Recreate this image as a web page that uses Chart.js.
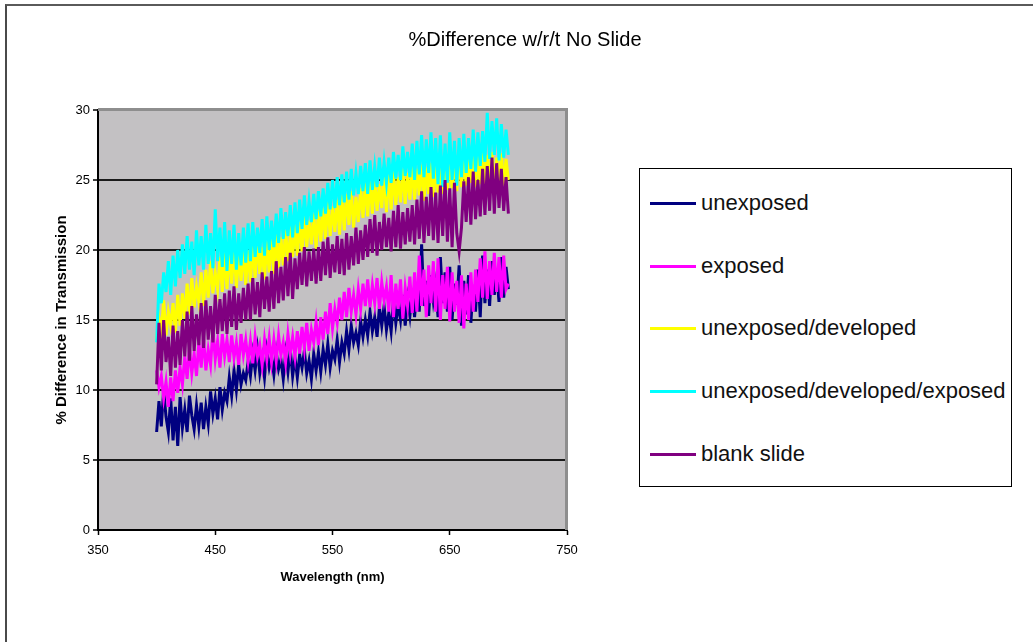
<!DOCTYPE html>
<html>
<head>
<meta charset="utf-8">
<script src="https://cdn.jsdelivr.net/npm/chart.js@4/dist/chart.umd.min.js"></script>
<style>
  html, body { margin: 0; padding: 0; background: #fff; overflow: hidden; }
  body { width: 1033px; height: 642px; position: relative; font-family: "Liberation Sans", Arial, sans-serif; }
  #frame { position: absolute; left: 5px; top: 4px; width: 1100px; height: 700px; border-left: 2px solid #4a4a4a; border-top: 2px solid #5a5a5a; }
  #chart { position: absolute; left: 0; top: 0; }
  #legend { position: absolute; left: 639px; top: 168px; width: 371px; height: 317px; border: 1px solid #000; background: #fff; }
  .item { position: absolute; left: 10px; height: 26px; display: flex; align-items: center; font-size: 22px; color: #111; white-space: nowrap; }
  .swatch { width: 46px; height: 3px; margin-right: 5px; }
</style>
</head>
<body>
<div id="frame"></div>
<canvas id="chart" width="1033" height="642"></canvas>
<div id="legend"></div>
<script>
// transmission difference (%), one sample every 2 nm from 400 to 700 nm
const unexposed = [
  7.0, 9.2, 7.4, 10.0, 8.1, 7.0, 9.4, 6.4, 8.8, 6.0,
  9.5, 7.3, 8.6, 7.0, 9.6, 8.2, 7.2, 8.9, 7.4, 9.1,
  7.2, 8.8, 7.6, 9.9, 8.3, 9.4, 7.9, 10.2, 8.6, 9.8,
  9.2, 10.9, 9.6, 11.4, 10.0, 11.8, 10.4, 11.2, 10.7, 12.0,
  11.0, 12.6, 11.4, 12.9, 11.2, 12.3, 10.9, 12.8, 11.6, 12.4,
  11.1, 12.7, 11.5, 12.2, 10.8, 12.6, 11.3, 12.9, 11.0, 12.3,
  10.9, 12.5, 11.6, 12.8, 11.2, 12.1, 10.8, 12.6, 11.4, 12.7,
  11.3, 12.9, 11.8, 13.3, 11.6, 12.8, 12.2, 13.6, 12.0, 13.4,
  12.6, 14.2, 12.9, 14.6, 13.4, 14.1, 13.2, 14.9, 13.8, 15.0,
  13.9, 15.6, 14.2, 15.2, 13.8, 15.9, 14.6, 16.0, 14.3, 15.5,
  14.2, 16.4, 14.8, 16.1, 15.0, 16.8, 14.6, 16.5, 15.3, 17.1,
  15.2, 17.4, 15.6, 20.4, 16.0, 17.8, 15.3, 18.2, 16.4, 17.6,
  15.2, 19.5, 16.2, 18.4, 15.6, 18.8, 15.0, 17.6, 16.1, 18.9,
  14.6, 17.8, 15.4, 18.2, 14.8, 17.5, 15.6, 18.6, 15.2, 19.6,
  16.2, 18.6, 16.0, 19.2, 16.8, 18.4, 16.3, 19.5, 16.6, 18.8,
  17.2
];
const exposed = [
  11.4, 10.2, 11.0, 9.4, 10.6, 8.8, 10.9, 9.2, 11.4, 9.8,
  11.6, 10.4, 12.4, 10.8, 13.0, 11.2, 12.6, 11.0, 13.4, 11.6,
  13.8, 11.4, 12.9, 11.8, 14.3, 12.2, 13.5, 11.6, 14.0, 12.4,
  13.6, 12.0, 13.9, 12.3, 13.4, 11.8, 14.0, 12.5, 13.6, 12.1,
  13.5, 11.9, 13.8, 12.4, 13.2, 11.8, 13.6, 12.2, 13.7, 12.0,
  13.6, 12.1, 13.9, 12.5, 13.4, 12.0, 14.0, 12.6, 13.8, 12.4,
  14.2, 12.6, 14.5, 13.0, 14.8, 12.8, 14.3, 13.4, 14.9, 13.2,
  15.2, 13.6, 15.6, 14.0, 16.2, 14.4, 15.8, 14.8, 16.6, 15.0,
  17.0, 15.2, 17.3, 15.6, 16.8, 15.4, 17.2, 15.8, 17.6, 16.0,
  17.9, 15.9, 17.5, 16.2, 18.0, 15.8, 17.7, 16.4, 17.4, 15.6,
  18.2, 15.2, 17.6, 15.8, 17.9, 15.1, 17.3, 16.0, 18.1, 15.5,
  18.4, 15.6, 19.6, 16.0, 18.6, 15.2, 18.9, 16.2, 19.2, 15.6,
  19.4, 15.0, 18.2, 15.8, 18.8, 14.9, 18.4, 15.6, 17.8, 14.8,
  18.2, 14.4, 17.6, 15.0, 18.4, 15.6, 18.6, 16.3, 19.4, 16.6,
  19.9, 16.5, 19.2, 16.8, 19.8, 17.0, 19.5, 16.6, 19.6, 17.2,
  17.6
];
const unexposedDeveloped = [
  13.6, 15.2, 14.2, 16.4, 13.9, 15.6, 14.6, 16.2, 14.1, 16.8,
  14.6, 16.9, 15.1, 17.6, 15.4, 18.0, 15.9, 17.4, 16.3, 18.4,
  16.0, 18.6, 16.6, 19.2, 16.9, 18.4, 17.2, 19.5, 17.0, 19.8,
  17.2, 19.9, 17.6, 20.2, 17.3, 19.6, 17.8, 20.1, 17.5, 20.0,
  17.7, 20.4, 18.0, 20.8, 18.3, 20.2, 17.9, 20.6, 18.4, 20.9,
  18.3, 21.2, 18.7, 20.9, 18.9, 21.4, 19.2, 21.0, 19.5, 21.8,
  19.6, 22.0, 19.9, 22.4, 20.2, 22.1, 20.4, 22.6, 20.1, 22.8,
  20.6, 23.0, 20.8, 23.4, 21.0, 23.1, 21.3, 23.6, 21.1, 23.9,
  21.4, 24.0, 21.8, 24.2, 21.6, 23.8, 22.0, 24.4, 22.3, 24.8,
  22.4, 24.9, 22.6, 25.0, 22.8, 24.7, 23.0, 25.3, 22.7, 25.5,
  22.9, 25.6, 23.2, 25.2, 23.4, 25.8, 23.3, 25.5, 23.6, 26.0,
  23.6, 25.8, 23.9, 26.1, 23.5, 25.9, 24.0, 26.2, 23.8, 26.0,
  24.1, 26.3, 24.0, 26.5, 24.3, 26.2, 24.4, 26.6, 24.2, 26.4,
  24.5, 26.7, 24.6, 26.5, 24.8, 26.9, 24.5, 26.8, 24.7, 27.0,
  24.6, 26.8, 24.9, 27.0, 24.5, 26.6, 24.8, 26.9, 24.6, 26.5,
  25.0
];
const unexposedDevelopedExposed = [
  13.4, 17.6, 16.2, 18.4, 17.0, 19.2, 16.8, 19.6, 17.4, 20.0,
  18.0, 20.4, 18.3, 21.0, 18.6, 20.6, 18.2, 21.4, 18.9, 21.0,
  18.6, 21.8, 19.0, 21.2, 18.7, 22.9, 19.2, 21.6, 18.8, 22.0,
  18.5, 21.4, 19.0, 21.8, 18.6, 21.2, 18.9, 21.6, 19.1, 21.9,
  19.2, 22.0, 19.5, 21.6, 19.8, 22.2, 19.6, 22.4, 20.0, 22.1,
  20.2, 22.6, 20.5, 23.0, 20.8, 22.7, 21.0, 23.2, 20.9, 23.4,
  21.2, 23.6, 21.5, 23.9, 21.8, 23.5, 22.0, 24.0, 22.2, 24.2,
  22.4, 24.4, 22.6, 24.8, 22.9, 25.0, 23.0, 25.2, 23.2, 25.4,
  23.4, 25.6, 23.6, 25.8, 23.9, 25.5, 24.0, 26.0, 24.2, 26.2,
  24.0, 26.4, 24.3, 26.0, 24.5, 26.6, 24.6, 26.3, 24.8, 26.6,
  24.8, 27.0, 25.1, 26.8, 25.0, 27.4, 25.3, 27.0, 25.2, 27.6,
  25.0, 27.8, 25.4, 28.2, 25.2, 27.9, 25.5, 28.4, 25.1, 28.0,
  24.7, 28.2, 24.5, 27.6, 24.8, 28.4, 25.0, 27.8, 24.6, 28.0,
  25.2, 28.3, 25.5, 28.0, 25.8, 28.6, 25.6, 28.4, 26.0, 28.5,
  26.3, 29.8, 26.5, 29.2, 26.8, 29.4, 26.4, 29.0, 26.6, 28.6,
  26.8
];
const blankSlide = [
  10.4, 14.8, 11.4, 15.0, 12.0, 13.8, 11.0, 14.6, 11.6, 14.2,
  11.8, 15.0, 12.4, 15.6, 12.1, 16.0, 12.8, 15.4, 13.2, 16.2,
  13.0, 16.4, 13.6, 16.0, 13.4, 16.8, 14.0, 16.5, 14.2, 16.9,
  14.0, 17.1, 14.5, 17.4, 14.3, 16.9, 14.8, 17.3, 15.0, 17.6,
  15.0, 18.0, 15.4, 17.7, 15.2, 18.4, 15.8, 18.1, 15.6, 18.5,
  15.8, 19.2, 16.2, 18.8, 16.4, 19.5, 16.7, 19.8, 16.5, 19.4,
  17.2, 19.8, 17.5, 20.2, 17.4, 19.9, 17.8, 20.1, 17.6, 20.2,
  17.8, 20.6, 18.2, 20.9, 18.0, 20.4, 18.4, 21.0, 18.3, 20.8,
  18.2, 21.2, 18.6, 21.0, 18.9, 21.6, 19.0, 21.4, 19.3, 21.8,
  19.5, 22.2, 19.8, 22.5, 19.6, 22.0, 20.0, 22.6, 20.2, 22.3,
  19.9, 22.8, 20.2, 23.2, 20.1, 22.7, 20.4, 23.0, 20.6, 23.2,
  20.4, 23.6, 20.8, 24.2, 20.5, 23.8, 21.0, 24.5, 20.7, 24.1,
  20.5, 24.6, 21.0, 25.0, 20.6, 24.4, 20.2, 24.8, 21.2, 19.9,
  21.6, 24.9, 22.0, 25.2, 21.8, 25.6, 22.2, 25.0, 22.4, 25.8,
  22.5, 26.0, 22.8, 26.6, 22.6, 26.2, 23.0, 25.8, 22.8, 25.2,
  22.6
];
const wavelengths = Array.from({ length: unexposed.length }, (_, i) => 400 + 2 * i);

const seriesNames = ['unexposed', 'exposed', 'unexposed/developed', 'unexposed/developed/exposed', 'blank slide'];
const seriesValues = [unexposed, exposed, unexposedDeveloped, unexposedDevelopedExposed, blankSlide];
const seriesColors = ['#000080', '#ff00ff', '#ffff00', '#00ffff', '#800080'];

// grey plot area with the shaded top/right edge
const plotArea = {
  id: 'plotArea',
  beforeDraw(chart) {
    const { ctx, chartArea: a } = chart;
    ctx.save();
    ctx.fillStyle = '#c3c1c3';
    ctx.fillRect(a.left, a.top, a.right - a.left, a.bottom - a.top);
    ctx.restore();
  },
  afterDatasetsDraw(chart) {
    const { ctx, chartArea: a } = chart;
    ctx.save();
    ctx.strokeStyle = '#8e8e8e';
    ctx.lineWidth = 3;
    ctx.beginPath();
    ctx.moveTo(a.left, a.top - 0.5);
    ctx.lineTo(a.right - 0.5, a.top - 0.5);
    ctx.lineTo(a.right - 0.5, a.bottom);
    ctx.stroke();
    ctx.restore();
  }
};

new Chart(document.getElementById('chart'), {
  type: 'line',
  data: {
    datasets: seriesNames.map((name, i) => ({
      label: name,
      data: wavelengths.map((w, j) => ({ x: w, y: seriesValues[i][j] })),
      borderColor: seriesColors[i],
      borderWidth: 3,
      pointRadius: 0,
      tension: 0,
      fill: false,
      // later series are painted over earlier ones
      order: seriesNames.length - 1 - i
    }))
  },
  options: {
    responsive: false,
    animation: false,
    layout: { padding: { left: 17, right: 0, top: 0, bottom: 0 } },
    plugins: {
      legend: { display: false },
      tooltip: { enabled: false },
      title: {
        display: true,
        text: '%Difference w/r/t No Slide',
        color: '#000',
        font: { family: 'Liberation Sans', size: 20, weight: 'normal' },
        padding: { top: 28, bottom: 58 }
      }
    },
    scales: {
      x: {
        type: 'linear',
        min: 350,
        max: 750,
        ticks: { stepSize: 100, color: '#000', padding: 8, font: { family: 'Liberation Sans', size: 13 } },
        grid: { drawOnChartArea: false, drawTicks: true, tickLength: 5, tickColor: '#000', tickWidth: 1.5 },
        border: { color: '#000', width: 2 },
        title: {
          display: true,
          text: 'Wavelength (nm)',
          color: '#000',
          font: { family: 'Liberation Sans', size: 13, weight: 'bold' },
          padding: { top: 0, bottom: 57.2 }
        },
        afterFit: s => { s.height = 112; }
      },
      y: {
        min: 0,
        max: 30,
        ticks: { stepSize: 5, color: '#000', padding: 3, font: { family: 'Liberation Sans', size: 13 } },
        grid: {
          color: c => (c.tick.value === 0 || c.tick.value === 30) ? 'rgba(0,0,0,0)' : '#1a1a1a',
          lineWidth: 2,
          tickLength: 5,
          tickColor: '#000',
          tickWidth: 1.5
        },
        border: { color: '#000', width: 2 },
        title: {
          display: true,
          text: '% Difference in Transmission',
          color: '#000',
          font: { family: 'Liberation Sans', size: 15, weight: 'bold' },
          padding: { top: 36, bottom: 0 }
        },
        afterFit: s => { s.width = 81; }
      },
      // empty right-hand axis keeps room for the legend box
      side: {
        position: 'right',
        display: true,
        ticks: { display: false },
        grid: { drawOnChartArea: false, drawTicks: false },
        border: { display: false },
        afterFit: s => { s.width = 466; }
      }
    }
  },
  plugins: [plotArea]
});

// legend box
const legend = document.getElementById('legend');
const rowCenters = [34, 97, 159, 222, 285];
seriesNames.forEach((name, i) => {
  const row = document.createElement('div');
  row.className = 'item';
  row.style.top = (rowCenters[i] - 13) + 'px';
  row.innerHTML = '<span class="swatch" style="background:' + seriesColors[i] + '"></span>' + name;
  legend.appendChild(row);
});
</script>
</body>
</html>
